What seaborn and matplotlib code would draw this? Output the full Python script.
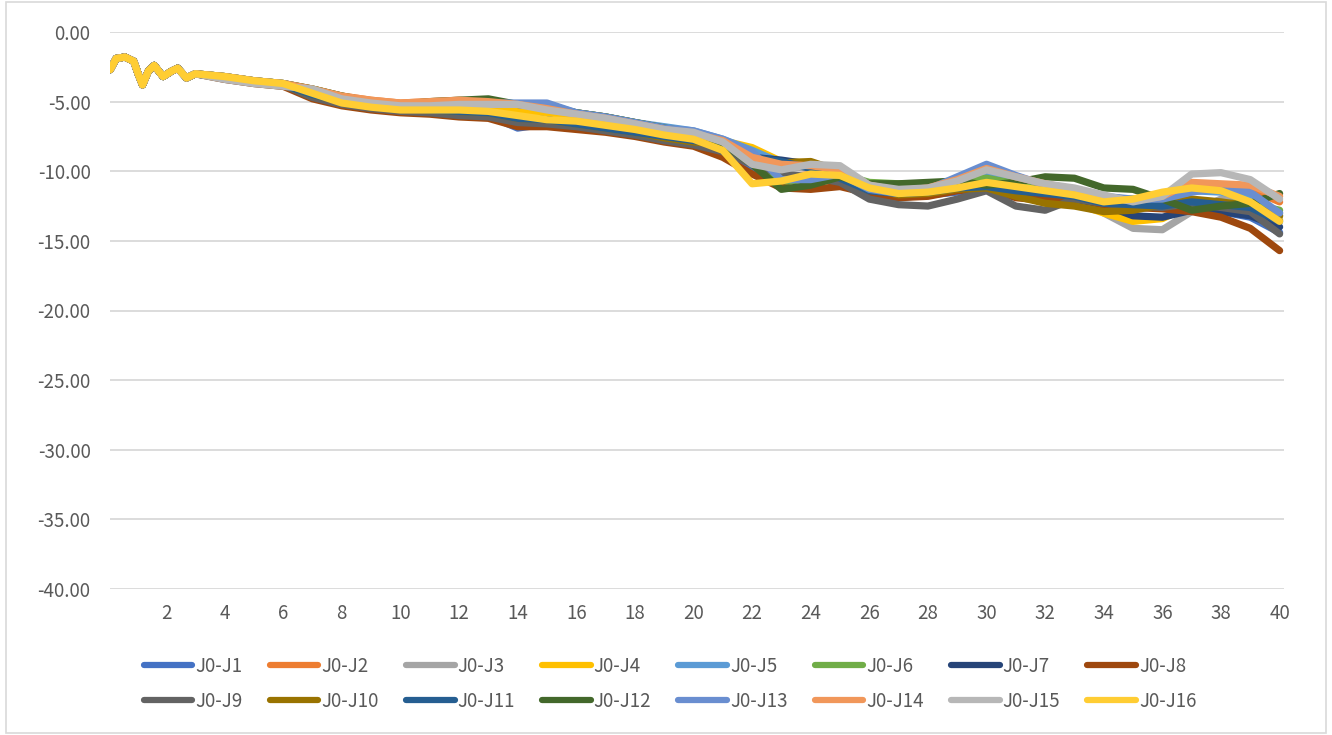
import matplotlib
matplotlib.use("Agg")
import matplotlib.pyplot as plt
import seaborn as sns
import pandas as pd
import numpy as np
from matplotlib.lines import Line2D
from matplotlib.patches import Rectangle

sns.set_theme(style="white")
plt.rcParams['font.family'] = ['Noto Sans CJK SC', 'DejaVu Sans']
plt.rcParams['axes.unicode_minus'] = False

# ---- data ----
early_x = [0.1, 0.3, 0.6, 0.9, 1.05, 1.2, 1.4, 1.6, 1.9, 2.2, 2.4, 2.7, 3.0]
early_y = [-2.7, -1.9, -1.8, -2.1, -3.0, -3.8, -2.8, -2.4, -3.2, -2.8, -2.6, -3.3, -3.0]
main_x = list(range(4, 41))

J1 = [-3.3,-3.6,-3.8,-4.6,-5.1,-5.4,-5.6,-5.7,-5.9,-6.0,-6.9,-6.6,-6.8,-7.0,-7.3,-7.6,-7.9,
      -8.4,-9.8,-10.5,-10.5,-10.6,-11.6,-11.9,-11.7,-11.5,-11.3,-11.6,-11.8,-11.9,-12.3,-12.6,-12.6,-12.4,-12.9,-13.3,-14.4]
J2 = [-3.2,-3.5,-3.7,-4.1,-4.6,-4.9,-5.1,-5.0,-4.9,-5.0,-5.2,-5.4,-5.8,-6.1,-6.5,-6.9,-7.2,
      -7.8,-9.1,-9.6,-9.8,-10.1,-11.1,-11.5,-11.3,-10.7,-10.0,-10.6,-11.0,-11.5,-12.0,-12.2,-11.9,-11.0,-11.1,-11.3,-12.2]
J3 = [-3.4,-3.7,-3.9,-4.2,-4.8,-5.1,-5.3,-5.3,-5.3,-5.3,-5.3,-5.6,-5.9,-6.2,-6.6,-7.0,-7.3,
      -7.9,-9.2,-9.8,-9.7,-10.0,-11.0,-11.4,-11.3,-11.0,-10.4,-10.8,-11.3,-11.8,-13.0,-14.1,-14.2,-12.9,-12.0,-12.1,-13.0]
J4 = [-3.2,-3.5,-3.7,-4.3,-4.9,-5.2,-5.4,-5.4,-5.4,-5.5,-5.7,-5.9,-6.2,-6.5,-6.8,-7.2,-7.5,
      -7.8,-8.3,-9.3,-9.4,-10.1,-11.2,-11.6,-11.5,-11.2,-11.0,-11.5,-11.8,-12.3,-13.0,-13.6,-13.4,-12.4,-12.3,-12.6,-13.5]
J5 = [-3.2,-3.5,-3.7,-4.2,-4.7,-5.0,-5.2,-5.2,-5.1,-5.1,-5.2,-5.2,-5.8,-6.1,-6.5,-6.8,-7.1,
      -7.7,-8.5,-9.4,-9.7,-10.0,-11.0,-11.4,-11.3,-10.8,-10.2,-10.7,-11.2,-11.6,-12.1,-12.4,-12.2,-11.4,-11.5,-11.8,-13.2]
J6 = [-3.2,-3.5,-3.7,-4.1,-4.6,-5.0,-5.2,-5.1,-5.0,-4.9,-5.2,-5.4,-5.8,-6.1,-6.5,-6.9,-7.2,
      -7.9,-9.0,-10.8,-10.5,-10.2,-10.8,-10.9,-10.9,-10.7,-10.5,-10.9,-11.1,-11.4,-11.9,-12.0,-12.1,-12.5,-12.3,-12.3,-12.8]
J7 = [-3.3,-3.6,-3.8,-4.6,-5.1,-5.4,-5.6,-5.7,-5.9,-6.0,-6.4,-6.5,-6.8,-7.0,-7.3,-7.6,-7.9,
      -8.0,-9.0,-9.2,-9.5,-10.2,-11.3,-11.7,-11.6,-11.3,-11.1,-11.4,-11.7,-12.0,-12.4,-13.2,-13.3,-12.8,-12.9,-13.2,-14.0]
J8 = [-3.4,-3.7,-3.9,-4.8,-5.3,-5.6,-5.8,-5.9,-6.1,-6.2,-6.8,-6.8,-7.0,-7.2,-7.5,-7.9,-8.2,
      -9.0,-10.2,-11.2,-11.3,-11.1,-11.6,-11.9,-11.8,-11.4,-11.2,-11.9,-12.1,-11.9,-12.4,-12.6,-12.7,-12.9,-13.3,-14.1,-15.7]
J9 = [-3.3,-3.6,-3.8,-4.7,-5.2,-5.5,-5.7,-5.8,-6.0,-6.1,-6.5,-6.6,-6.8,-7.1,-7.4,-7.8,-8.1,
      -8.6,-9.5,-10.2,-10.4,-10.8,-12.0,-12.4,-12.5,-12.0,-11.4,-12.5,-12.8,-12.0,-12.3,-12.5,-12.6,-12.3,-12.6,-12.9,-14.5]
J10 = [-3.3,-3.6,-3.8,-4.5,-5.0,-5.3,-5.5,-5.6,-5.7,-5.8,-6.2,-6.3,-6.6,-6.9,-7.2,-7.6,-7.9,
       -8.0,-9.0,-9.4,-9.3,-10.0,-11.2,-11.7,-11.6,-11.3,-11.2,-11.8,-12.3,-12.5,-12.9,-12.8,-12.4,-12.0,-12.2,-12.5,-13.2]
J11 = [-3.3,-3.6,-3.8,-4.5,-5.0,-5.3,-5.5,-5.6,-5.7,-5.8,-6.2,-6.3,-6.6,-6.9,-7.2,-7.5,-7.8,
       -8.0,-9.0,-9.3,-9.8,-10.5,-11.4,-11.6,-11.5,-11.2,-11.1,-11.4,-11.6,-11.8,-12.3,-12.4,-12.5,-12.2,-12.4,-12.6,-13.6]
J12 = [-3.2,-3.5,-3.7,-4.1,-4.6,-5.0,-5.2,-5.0,-4.9,-4.8,-5.2,-5.4,-5.8,-6.1,-6.5,-6.9,-7.2,
       -8.0,-9.5,-11.3,-11.0,-10.4,-10.9,-10.9,-10.8,-10.7,-11.0,-10.8,-10.4,-10.5,-11.2,-11.3,-12.0,-12.8,-12.5,-12.3,-11.6]
J13 = [-3.2,-3.5,-3.7,-4.2,-4.7,-5.0,-5.2,-5.2,-5.1,-5.1,-5.1,-5.1,-5.8,-6.1,-6.5,-6.9,-7.1,
       -7.7,-8.6,-10.6,-10.6,-10.2,-11.3,-11.6,-11.3,-10.4,-9.5,-10.3,-11.0,-11.6,-11.8,-12.0,-12.0,-11.5,-11.2,-11.5,-13.0]
J14 = [-3.2,-3.5,-3.7,-4.1,-4.6,-4.9,-5.1,-5.0,-4.9,-5.0,-5.2,-5.5,-5.9,-6.2,-6.6,-7.0,-7.3,
       -7.8,-9.0,-9.5,-9.6,-9.9,-11.0,-11.4,-11.2,-10.6,-9.8,-10.4,-10.9,-11.3,-11.9,-12.1,-11.8,-10.8,-10.9,-11.0,-11.8]
J15 = [-3.4,-3.7,-3.9,-4.1,-4.8,-5.1,-5.3,-5.3,-5.2,-5.2,-5.2,-5.6,-5.9,-6.2,-6.6,-7.0,-7.2,
       -7.9,-9.5,-9.9,-9.5,-9.6,-11.0,-11.3,-11.2,-10.7,-9.9,-10.4,-10.9,-11.2,-11.7,-12.2,-11.8,-10.2,-10.1,-10.6,-12.0]
J16 = [-3.2,-3.5,-3.7,-4.4,-5.1,-5.4,-5.6,-5.6,-5.6,-5.7,-6.0,-6.3,-6.4,-6.7,-7.0,-7.4,-7.7,
       -8.5,-10.9,-10.7,-10.2,-10.3,-11.2,-11.6,-11.5,-11.2,-10.8,-11.1,-11.4,-11.7,-12.2,-12.0,-11.5,-11.2,-11.4,-12.2,-13.6]

series_names = [f"J0-J{i}" for i in range(1, 17)]
series_values = [J1, J2, J3, J4, J5, J6, J7, J8, J9, J10, J11, J12, J13, J14, J15, J16]
colors = ["#4472C4", "#ED7D31", "#A5A5A5", "#FFC000", "#5B9BD5", "#70AD47",
          "#264478", "#9E480E", "#636363", "#997300", "#255E91", "#43682B",
          "#698ED0", "#F1975A", "#B7B7B7", "#FFCD33"]
y_ticks = [0, -5, -10, -15, -20, -25, -30, -35, -40]
x_ticks = list(range(2, 41, 2))

rows = []
for name, vals in zip(series_names, series_values):
    xs = early_x + main_x
    ys = early_y + vals
    for i, (xv, yv) in enumerate(zip(xs, ys)):
        rows.append({"x": xv, "y": yv, "series": name, "order": i})
df = pd.DataFrame(rows)

fig = plt.figure(figsize=(13.32, 7.35), dpi=100)
ax = fig.add_axes([110/1332, 1-589/735, (1284-110)/1332, (589-32)/735])

sns.lineplot(data=df, x="x", y="y", hue="series", hue_order=series_names,
             palette=colors, sort=False, estimator=None, linewidth=5.2,
             legend=False, ax=ax, solid_capstyle="round", solid_joinstyle="round")

ax.set_xlim(0.09, 40.15)
ax.set_ylim(-40, 0)
ax.set_yticks(y_ticks)
ax.set_yticklabels([f"{v:.2f}" for v in y_ticks])
ax.set_xticks(x_ticks)
ax.set_xticklabels([str(v) for v in x_ticks])
ax.yaxis.grid(True, color="#D9D9D9", linewidth=1.3)
ax.xaxis.grid(False)
for s in ax.spines.values():
    s.set_visible(False)
ax.tick_params(axis="both", length=0, labelsize=13.5, labelcolor="#595959")
ax.tick_params(axis="y", pad=14)
ax.tick_params(axis="x", pad=10)
ax.set_xlabel("")
ax.set_ylabel("")
ax.set_axisbelow(True)

# legend filled row by row (8 per row)
ncol = 8
order = []
for c in range(ncol):
    for r in range(2):
        order.append(r * ncol + c)
handles = [Line2D([0], [0], color=colors[i], lw=4.5, solid_capstyle="round") for i in order]
labels = [series_names[i] for i in order]
leg = fig.legend(handles, labels, loc="center", bbox_to_anchor=(0.503, 1-684/735),
                 ncol=ncol, frameon=False, fontsize=13.5, handlelength=2.6,
                 handletextpad=0.15, columnspacing=1.45, labelspacing=0.75)
for t in leg.get_texts():
    t.set_color("#595959")

fig.patches.append(Rectangle((6/1332, 2/735), 1320/1332, 731/735, transform=fig.transFigure,
                             fill=False, edgecolor="#D9D9D9", linewidth=1.2))

fig.savefig("out.png", dpi=100, facecolor="white")
